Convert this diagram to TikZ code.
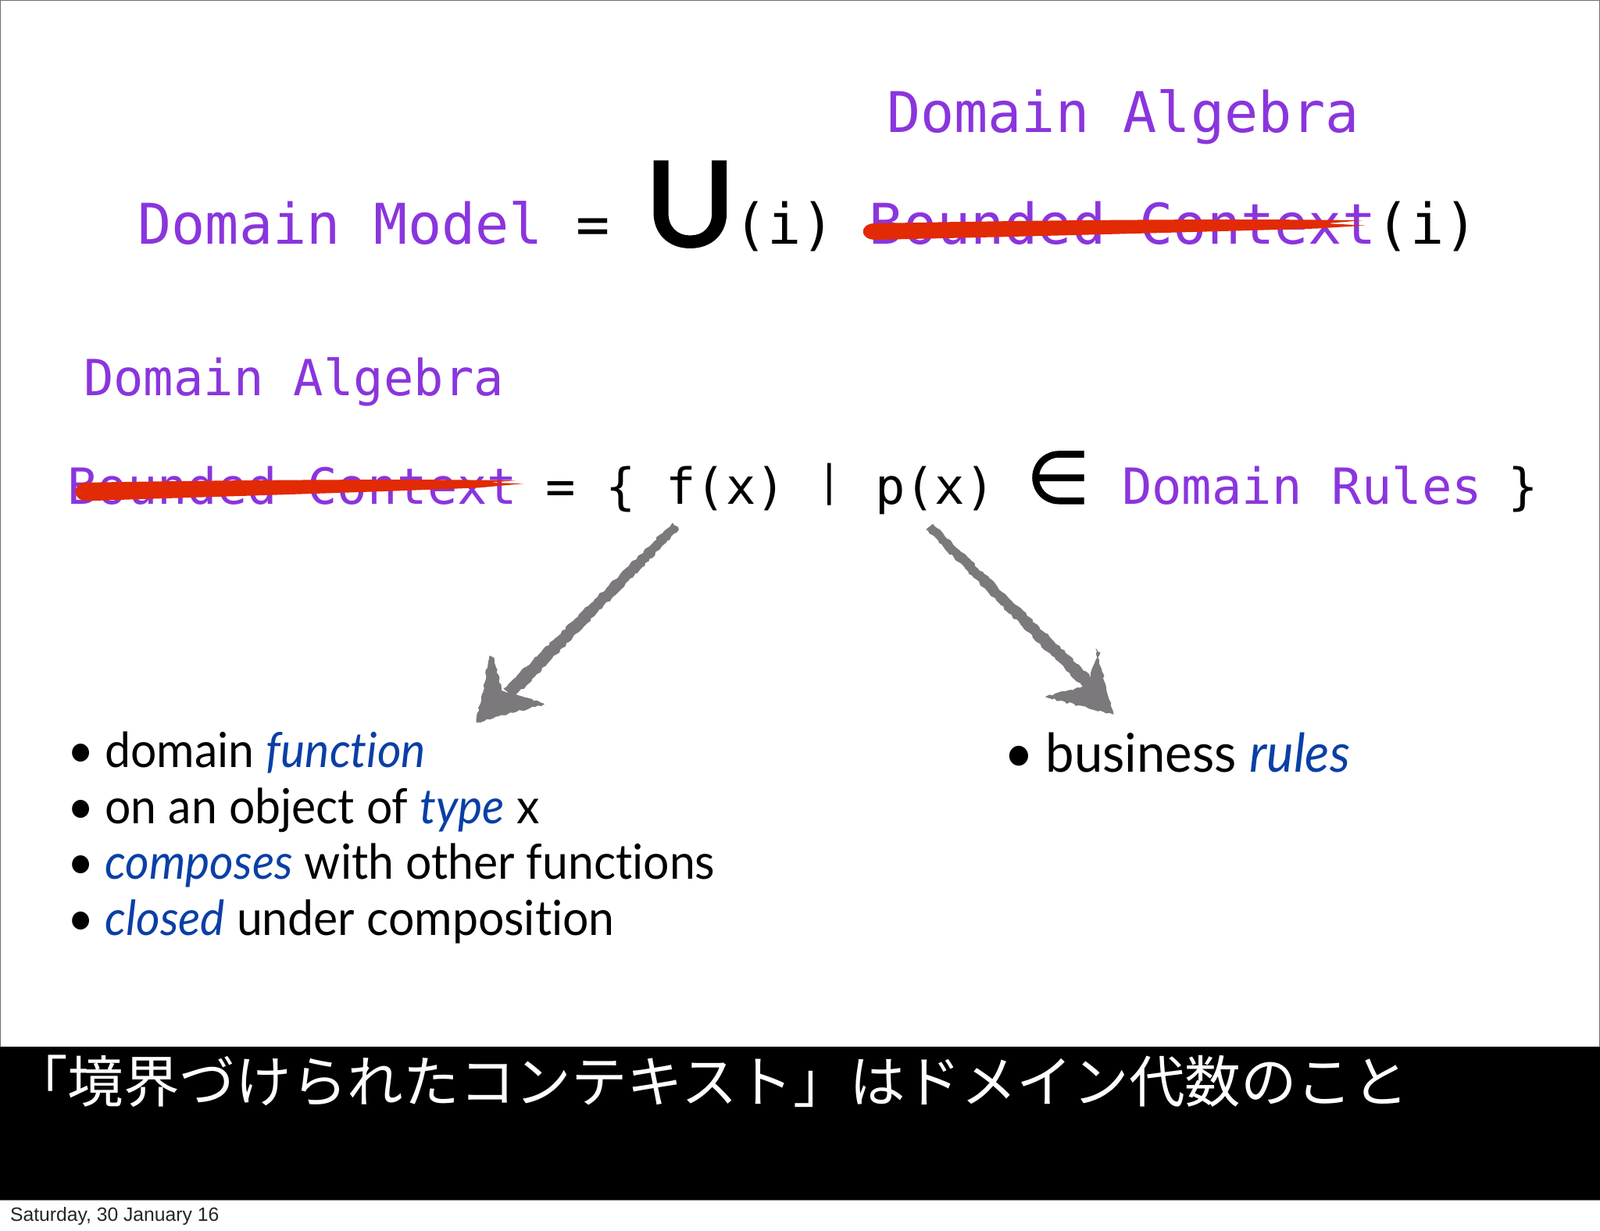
\documentclass[tikz,border=0pt]{standalone}
\usepackage{fontspec}
\setmainfont{Lato}[Ligatures=CommonOff,FakeStretch=0.95]
\newfontfamily\monof{DejaVu Sans Mono}
\newfontfamily\symf[FakeBold=1.5]{DejaVu Sans}
\newfontfamily\unionf[FakeBold=2.5,FakeStretch=1.05]{Lato}
\newfontfamily\cjkf{Noto Sans CJK JP}
\newfontfamily\footf{Liberation Sans}
\usetikzlibrary{decorations.pathmorphing}
\definecolor{dompurple}{HTML}{8A35DD}
\definecolor{emblue}{HTML}{0A3FA6}
\definecolor{strikered}{HTML}{E22A05}
\definecolor{sketchgray}{HTML}{7B797B}
\definecolor{framegray}{HTML}{6E6E6E}
\newcommand{\emb}[1]{\textcolor{emblue}{\textit{#1}}}
\tikzset{
  txt/.style={anchor=base west,inner sep=0pt,outer sep=0pt},
  monoa/.style={txt,font=\monof\fontsize{35.9pt}{40pt}\selectfont},
  monob/.style={txt,font=\monof\fontsize{31.9pt}{36pt}\selectfont},
  bodyt/.style={txt,font=\fontsize{31pt}{36pt}\selectfont},
  bodyl/.style={txt,font=\fontsize{34.3pt}{38pt}\selectfont},
  strike/.style={fill=strikered,draw=none},
  sketch/.style={fill=sketchgray,draw=sketchgray,line width=0.4pt,
    decorate,decoration={random steps,segment length=2pt,amplitude=0.7pt}},
}
\begin{document}
\begin{tikzpicture}[x=0.653pt,y=-0.653pt]
\useasboundingbox (0,0) rectangle (1568,1206.6);
\fill[white] (0,0) rectangle (1568,1206.6);
\draw[framegray,line width=0.6pt] (0.5,0.5) rectangle (1567.5,1176.5);
\fill[black] (0,1026) rectangle (1568,1176);
% line 1
\node[monoa,text=dompurple] (algA) at (869,130) {Domain Algebra};
\node[monoa,text=dompurple] (model) at (135,239) {Domain Model};
\node[monoa] (eqA) at (565,239) {=};
\node[txt,font=\unionf\fontsize{75pt}{80pt}\selectfont] (union) at (632,241) {U};
\node[monoa] (ia) at (719,239) {(i)};
\node[monoa,text=dompurple] (bcA) at (852,239) {Bounded Context};
\node[monoa] (ib) at (1349,239) {(i)};
\fill[strike] (856,219) .. controls (1000,216) and (1200,214) .. (1335,216)
  -- (1300,219) -- (1338,221) -- (1290,224) .. controls (1150,228) and (1000,232) .. (858,235)
  .. controls (842,235) and (842,220) .. (856,219) -- cycle;
% line 2
\node[monob,text=dompurple] (algB) at (82,388) {Domain Algebra};
\node[monob,text=dompurple] (bcB) at (66,494) {Bounded Context};
\node[monob] (setA) at (535,494) {= \{ f(x)};
\node[anchor=base,inner sep=0pt,font=\monof\fontsize{27pt}{29pt}\selectfont] (bar) at (813,486) {|};
\node[monob] (setP) at (857.5,494) {p(x)};
\node[txt,font=\symf\fontsize{46.5pt}{50pt}\selectfont] (elem) at (1006,493) {∈};
\node[monob,text=dompurple] (rules) at (1099.5,494) {Domain Rules};
\node[monob] (setB) at (1478,494) {\}};
\fill[strike] (84,473) .. controls (200,471) and (380,469) .. (505,471)
  -- (480,473) -- (513,474) -- (470,478) .. controls (350,483) and (200,487) .. (86,491)
  .. controls (70,491) and (70,474) .. (84,473) -- cycle;
% arrows
\coordinate (ltip) at (467,708);
\coordinate (rtip) at (1091,700);
\path[sketch] (659,513) -- (665,519) -- (503,684) -- (494,675) -- cycle;
\path[sketch] (ltip) -- (480,643) -- (484,645) -- (491,677) -- (533,690) -- cycle;
\path[sketch] (908,519) -- (914,514) -- (1073,668) -- (1065,677) -- cycle;
\path[sketch] (rtip) -- (1074,636) -- (1078,640) -- (1064,673) -- (1025,683) -- cycle;
% bullets
\node[bodyt] (b1) at (66,752) {•};
\node[bodyt] (t1) at (103,752) {domain \emb{function}};
\node[bodyt] (b2) at (66,807) {•};
\node[bodyt] (t2) at (103,807) {on an object of \emb{type} x};
\node[bodyt] (b3) at (66,862) {•};
\node[bodyt] (t3) at (103,862) {\emb{composes} with other functions};
\node[bodyt] (b4) at (66,917) {•};
\node[bodyt] (t4) at (103,917) {\emb{closed} under composition};
\node[bodyl] (b5) at (984,757) {•};
\node[bodyl] (t5) at (1025,757) {business \emb{rules}};
% band
\node[txt,text=white,font=\cjkf\fontsize{35.8pt}{40pt}\selectfont] (cap) at (11.6,1081) {「境界づけられたコンテキスト」はドメイン代数のこと};
\node[txt,font=\footf\fontsize{12.35pt}{15pt}\selectfont,text=black!85] (date) at (10,1197) {Saturday, 30 January 16};
\end{tikzpicture}
\end{document}
